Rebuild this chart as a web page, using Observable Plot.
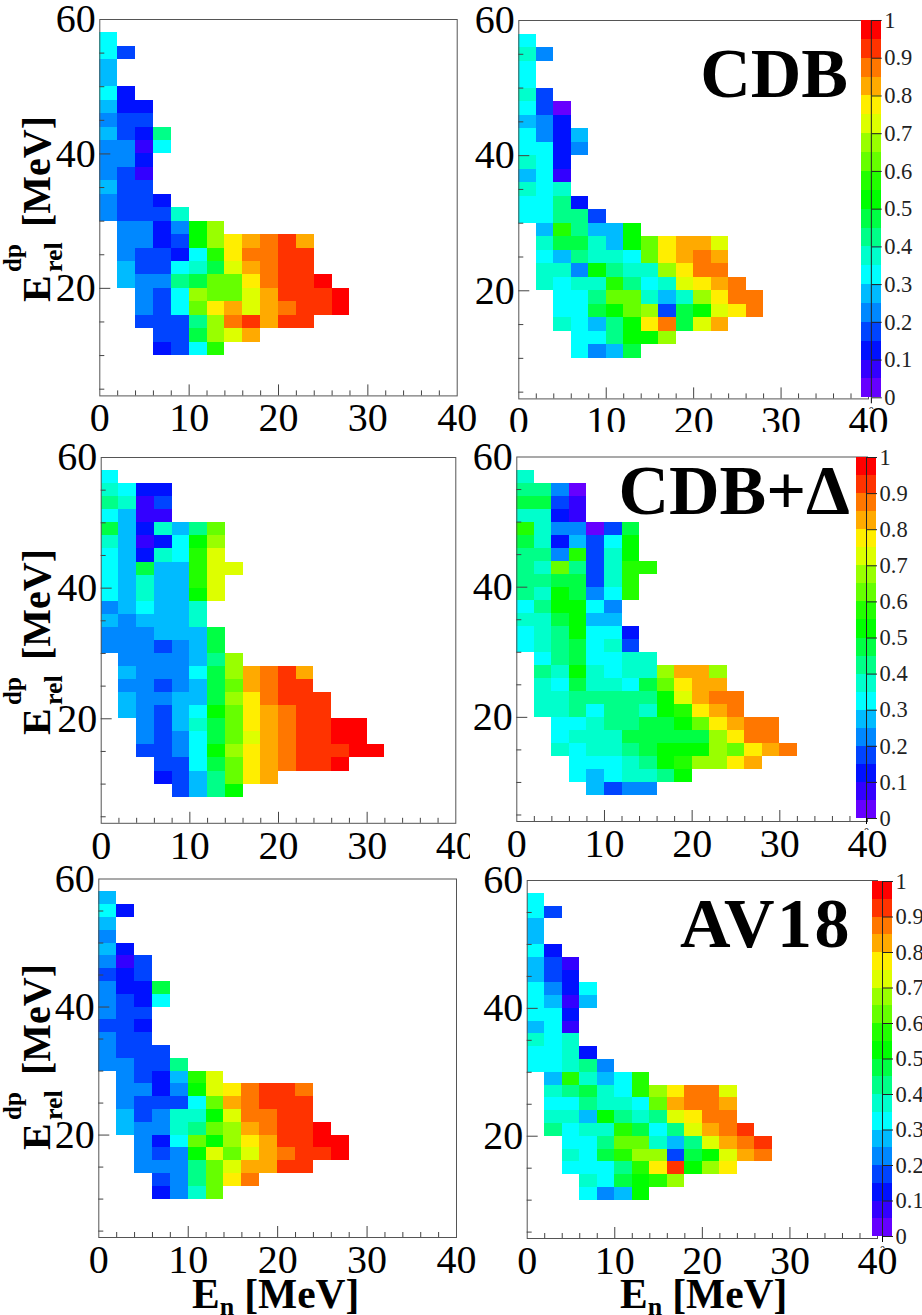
<!DOCTYPE html>
<html><head><meta charset="utf-8">
<script src="https://cdn.jsdelivr.net/npm/d3@7"></script>
<script src="https://cdn.jsdelivr.net/npm/@observablehq/plot@0.6"></script>
<style>html,body{margin:0;padding:0;background:#fff;overflow:hidden}#root{position:relative;width:922px;height:1315px;overflow:hidden}
#root svg text{font-family:'Liberation Serif','Times New Roman',serif !important;font-variant:normal !important}</style>
</head><body><div id="root"></div>
<script>
// Each row: [first column index (2 MeV wide), palette level of each cell...]; first row is Erel 56-58, going down 2 MeV a row
const cdbLeft = [[0,6],[0,6,3],[0,5],[0,5],[0,6,2],[0,5,2,2],[0,4,3,3],[0,5,3,2,8],[0,4,4,1,6],[0,4,4,2],[0,4,3,1],[0,5,3,3],[0,4,3,3,2],[0,4,3,3,3,7],
[1,4,4,2,4,10,13],[1,4,4,2,3,10,13,15,16,17,18,16],[1,4,3,3,2,6,11,15,17,17,18,18],[1,5,3,3,6,7,9,14,16,17,18,18],[1,5,4,4,8,9,12,12,15,17,18,18,19],
[2,4,3,6,13,12,12,14,16,18,18,18,19],[2,4,3,6,12,15,16,14,16,17,18,18,19],[2,3,3,3,8,13,17,18,16,18,18],[3,3,3,9,13,14,16],[3,2,3,6,11]];
const cdbRight = [[0,6],[0,7,4],[0,6],[0,6],[0,7,3],[0,6,3,0],[0,5,4,2],[0,6,4,2,5],[0,6,6,2,4],[0,7,6,2],[0,5,6,1],[0,7,6,7],[0,6,6,8,2],[0,6,6,8,8,3],
[1,5,11,8,5,5,10],[1,7,9,9,7,5,10,12,15,16,16,14],[1,6,5,8,7,7,6,12,15,16,17,16],[1,7,7,4,10,8,7,7,13,15,17,17],[1,7,6,7,7,11,8,6,7,14,15,16,17],
[2,6,6,8,12,12,7,5,7,13,15,17,17],[2,6,6,9,10,12,13,3,9,10,14,15,17],[2,7,6,5,8,10,15,17,9,14,16],[3,6,6,8,10,10,13],[3,6,4,5,9]];
const deltaLeft = [[0,6],[0,7,6,2,2],[0,8,7,1,3],[0,6,5,1,1],[0,9,5,2,7,5,8,12],[0,7,5,1,2,6,10,13],[0,6,5,2,7,6,11,14],[0,6,5,9,5,5,11,14,14],[0,6,5,7,5,5,11,14],[0,6,5,7,5,5,10,14],[0,4,5,6,5,5,7],[0,5,4,5,5,5,7],[0,4,4,4,5,5,5,9],[0,4,4,4,3,4,5,9],
[1,4,4,4,4,5,8,13],[1,5,4,4,4,6,9,13,16,17,18,16],[1,4,4,3,4,5,9,12,16,17,18,18],[1,5,4,4,5,5,9,13,15,17,18,18,18],[1,5,4,3,5,6,10,12,15,16,17,18,18],
[2,4,3,5,7,9,12,15,16,17,18,18,19,19],[2,4,3,4,6,9,12,14,16,17,18,18,19,19],[2,3,3,4,6,10,13,15,16,17,18,18,18,19,19],[3,3,3,6,9,12,15,16,17,18,18,19],[3,2,3,5,8,12,15,16],[4,3,5,8,10]];
const deltaRight = [[0,7],[0,8,8,4,0],[0,9,9,3,1],[0,7,7,2,1],[0,11,7,4,4,0,3,9],[0,9,7,2,5,3,6,10],[0,8,8,4,11,3,7,10],[0,8,7,12,8,3,7,11,11],[0,8,8,9,9,3,7,11],[0,8,7,10,9,4,6,11],[0,6,8,10,10,6,4],[0,7,7,9,10,5,5],[0,6,7,8,10,6,6,2],[0,6,7,8,9,6,7,3],
[1,6,8,9,6,6,7,7],[1,8,7,10,7,6,7,7,13,16,16,13],[1,7,6,9,7,7,6,9,12,15,16,16],[1,7,7,8,8,8,8,8,10,14,16,17,17],[1,7,7,8,6,8,8,7,10,11,15,16,17],
[2,6,6,7,8,8,9,9,10,12,15,16,17,17],[2,6,7,7,7,9,9,9,9,9,13,15,17,17],[2,7,6,7,7,8,9,10,10,10,13,12,15,16,17],[3,6,6,6,7,8,10,11,13,13,15,16],[3,6,5,6,7,7,8,10],[4,5,3,4,4]];
const av18Left = [[0,5],[0,6,2],[0,5],[0,4],[0,5,2],[0,4,1,3],[0,3,2,3],[0,4,2,2,9],[0,4,3,2,6],[0,4,3,3],[0,3,3,2],[0,4,3,3],[0,4,3,3,3],[0,4,4,3,3,8],
[1,4,3,2,5,11,14],[1,4,4,2,4,10,14,15,17,18,18,17],[1,4,3,3,3,6,12,16,17,18,18,18],[1,5,3,4,7,7,10,14,17,17,18,18],[1,5,4,4,7,8,12,13,16,17,18,18,19],
[2,4,2,6,12,10,13,15,16,18,18,19,19],[2,4,3,4,10,14,12,14,16,17,18,18,19],[2,4,4,4,8,12,14,16,16,18,18],[3,3,4,8,12,15,17],[3,2,4,7,12]];
const av18Right = [[0,6],[0,6,3],[0,5],[0,5],[0,6,2],[0,5,3,1],[0,5,3,2],[0,6,4,2,6],[0,6,5,1,5],[0,6,6,2],[0,5,6,1],[0,7,6,7],[0,6,6,7,2],[0,6,6,7,8,4],
[1,5,11,7,5,6,11],[1,7,8,9,7,6,11,13,15,17,17,14],[1,6,6,8,7,7,6,12,16,17,17,16],[1,7,7,5,10,8,7,8,14,15,17,17],[1,8,6,7,7,11,9,6,8,14,16,17,18],
[2,6,6,8,12,12,7,5,8,14,16,17,18],[2,7,6,9,11,13,13,3,9,10,14,16,17],[2,6,6,6,8,11,15,18,10,13,15],[3,7,6,9,10,11,13],[3,6,4,5,10]];
const paletteLevels = [0,1,2,3,4,5,6,7,8,9,10,11,12,13,14,15,16,17,18,19];
const palette = ["#6600ff","#3300ff","#0011ff","#0044ff","#0088ff","#00bbff","#00ffff","#00ffcc","#00ff88","#00ff44","#00ff00","#22ff00","#66ff00","#99ff00","#ddff00","#ffee00","#ffaa00","#ff7700","#ff3300","#ff0000"];
const thresholds = paletteLevels.slice(1).map(l => l / 20);
const xMajor = [10,20,30];
const xMinor = [2,4,6,8,12,14,16,18,22,24,26,28,32,34,36,38];
const xLabels = [0,10,20,30,40];
const yMajor = [20,40];
const yMinor = [5,10,15,25,30,35,45,50,55];
const yLabels = [20,40,60];
const barTicks = [0,0.1,0.2,0.3,0.4,0.5,0.6,0.7,0.8,0.9,1];

const SERIF = "'Liberation Serif','Times New Roman',serif";
const root = document.getElementById("root");
const colorScale = {type:"threshold", domain:thresholds, range:palette};

function cells(rows){
  const out = [];
  rows.forEach((r,k)=>{ const [start,...lv]=r; lv.forEach((l,i)=>{
    const x=2*(start+i), y=56-2*k; out.push({x1:x,x2:x+2,y1:y,y2:y+2,value:(l+0.5)/20}); }); });
  return out;
}
function place(el,left,top){ el.style.position="absolute"; el.style.left=left+"px"; el.style.top=top+"px"; el.style.maxWidth="none"; root.appendChild(el); }

const panels = [
 {rows:cdbLeft,   x0:99.3, x40:456.7,y60:19,  y4:395.4,l:50, t:0,  r:480,b:440,lp:7},
 {rows:cdbRight,  x0:518.3,x40:868,  y60:20,  y4:398.4,l:470,t:0,  r:922,b:440,lp:7},
 {rows:deltaLeft, x0:100.7,x40:455.3,y60:457, y4:822.8,l:50, t:440,r:480,b:870,lp:7},
 {rows:deltaRight,x0:516.3,x40:867,  y60:456.5,y4:821, l:470,t:432,r:922,b:870,lp:7,bg:"#fff"},
 {rows:av18Left,  x0:98.3, x40:456,  y60:878.5,y4:1237,l:50, t:862,r:480,b:1315,lp:7},
 {rows:av18Right, x0:526.7,x40:877,  y60:880, y4:1238, l:480,t:862,r:922,b:1315,lp:7}
];
for(const p of panels){
  const tick={stroke:"#444",strokeWidth:1,fill:"none",label:null};
  const chart = Plot.plot({
    width:p.r-p.l, height:p.b-p.t,
    marginLeft:p.x0-p.l, marginRight:p.r-p.x40, marginTop:p.y60-p.t, marginBottom:p.b-p.y4,
    style:{fontFamily:SERIF,background:p.bg||"transparent"},
    x:{domain:[0,40]}, y:{domain:[4,60]}, color:colorScale,
    marks:[
      Plot.rect(cells(p.rows),{x1:"x1",x2:"x2",y1:"y1",y2:"y2",fill:"value",shapeRendering:"crispEdges"}),
      Plot.frame({stroke:"#555",strokeWidth:1}),
      Plot.axisX(xMinor,{tickSize:-5,...tick}),
      Plot.axisX(xMajor,{tickSize:-11,...tick}),
      Plot.axisY(yMinor,{tickSize:-5,...tick}),
      Plot.axisY(yMajor,{tickSize:-11,...tick}),
      Plot.axisX(xLabels,{tickSize:0,tickPadding:p.lp,fontSize:40,color:"#000",label:null,stroke:"none"}),
      Plot.axisY(yLabels,{tickSize:0,tickPadding:4,fontSize:40,color:"#000",label:null,stroke:"none"})
    ]
  });
  place(chart,p.l,p.t);
}

const bars = [
 {x0:861,x1:880.7,y1:20, y0:397.3},
 {x0:856,x1:876,  y1:457,y0:818},
 {x0:872,x1:892,  y1:881,y0:1236}
];
for(const b of bars){
  const t=b.y1-12, h=b.y0-b.y1+24, w=922-b.x0;
  const chart=Plot.plot({
    width:w,height:h,marginLeft:0,marginRight:w-(b.x1-b.x0),marginTop:12,marginBottom:12,
    style:{fontFamily:SERIF,background:"transparent"},
    y:{domain:[0,1]},color:colorScale,
    marks:[
      Plot.rect(paletteLevels,{y1:l=>l/20,y2:l=>(l+1)/20,fill:l=>(l+0.5)/20,shapeRendering:"crispEdges"}),
      Plot.axisY(barTicks,{anchor:"right",tickSize:-10,fill:"none",label:null,stroke:"#222"}),
      Plot.ruleX([0],{frameAnchor:"right",stroke:"#222"}),
      Plot.axisY(barTicks,{anchor:"right",tickSize:0,tickPadding:3,fontSize:22.5,color:"#222",label:null,stroke:"none",tickFormat:d=>String(d)})
    ]
  });
  place(chart,b.x0,t);
}

// Overlay: axis titles and model names
const over=d3.select(root).append("svg").attr("width",922).attr("height",1315)
  .style("position","absolute").style("left",0).style("top",0)
  .attr("font-family",SERIF).attr("font-weight","bold").attr("fill","#000");
const modelNames=[{t:"CDB",x:848,y:97,s:0},{t:"CDB+\u0394",x:850,y:514,s:0},{t:"AV18",x:852,y:947,s:2.5}];
for(const m of modelNames) over.append("text").attr("x",m.x).attr("y",m.y).attr("text-anchor","end").attr("font-size",70).attr("letter-spacing",m.s).text(m.t);
const yTitles=[{x:50,y:302},{x:50,y:735},{x:50,y:1150}];
for(const a of yTitles){
  const g=over.append("text").attr("transform",`translate(${a.x},${a.y}) rotate(-90)`).attr("font-size",40);
  g.append("tspan").attr("x",0).attr("y",0).text("E");
  g.append("tspan").attr("x",30).attr("y",-29).attr("font-size",25).text("dp");
  g.append("tspan").attr("x",30).attr("y",12).attr("font-size",26).text("rel");
  g.append("tspan").attr("x",75).attr("y",0).text("[MeV]");
}
const xTitles=[{x:192},{x:620}];
for(const a of xTitles){
  const g=over.append("text").attr("x",a.x).attr("y",1308).attr("font-size",41.5);
  g.append("tspan").text("E");
  g.append("tspan").attr("font-size",26).attr("dy",7).text("n");
  g.append("tspan").attr("dy",-7).attr("dx",10).text("[MeV]");
}
</script></body></html>
